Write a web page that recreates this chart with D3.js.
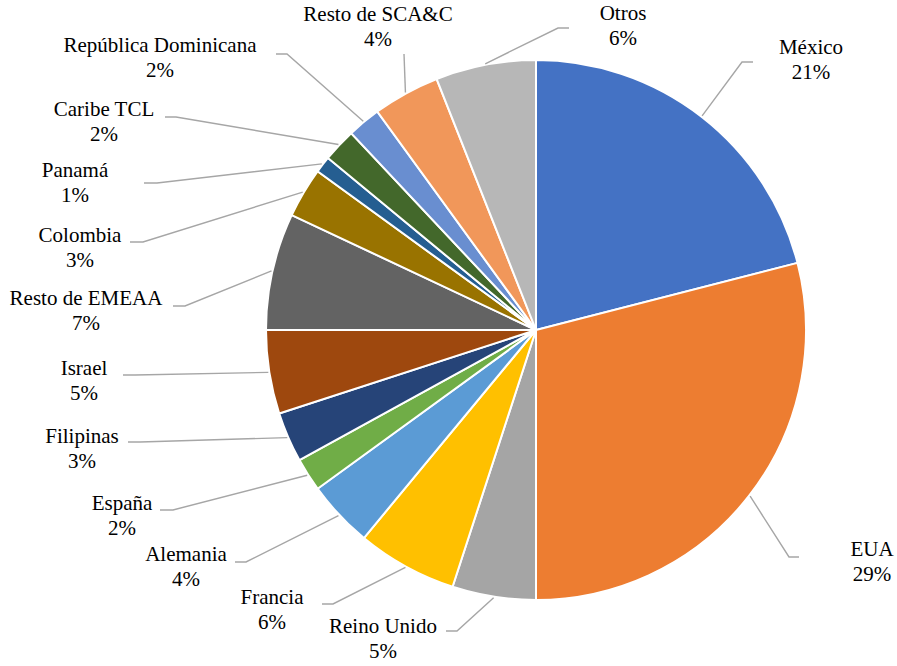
<!DOCTYPE html>
<meta charset="utf-8">
<body style="margin:0">
<svg id="grafico" width="897" height="666"></svg>
<script src="https://d3js.org/d3.v7.min.js"></script>
<script>

// datos, en el orden de las agujas del reloj desde arriba
var paises = ['México','EUA','Reino Unido','Francia','Alemania','España','Filipinas','Israel',
  'Resto de EMEAA','Colombia','Panamá','Caribe TCL','República Dominicana','Resto de SCA&C','Otros'];
var valores = [21, 29, 5, 6, 4, 2, 3, 5, 7, 3, 1, 2, 2, 4, 6];
var colores = ['#4472C4','#ED7D31','#A5A5A5','#FFC000','#5B9BD5','#70AD47','#264478','#9E480E',
  '#636363','#997300','#255E91','#43682B','#698ED0','#F1975A','#B7B7B7'];

// colocacion de las etiquetas (centro x, linea base) y fin de la linea guia [x, y, tramo horizontal]
var etiquetaPos = [[811,54],[872,556],[383,633],[272,604],[186,561],[122,510],[82,443],[84,375],
  [86,305],[80,242],[75,177],[104,116],[160,52],[378,21],[623,20]];
var guiaFin = [[753,62,11],[799,557,10],[446,631,-11],[322,604,-11],[235,562,-11],[160,510,-13],
  [128,442,-12],[123,375,-12],[173,306,-12],[130,242,-13],[144,183,-13],[165,117,-11],
  [276,54,-11],[404,54,0],[569,28,11]];

var cx = 536, cy = 330, R = 270;

var svg = d3.select("#grafico");
var g = svg.append("g").attr("transform", "translate(" + cx + "," + cy + ")");

var datos = paises.map(function(p, i){ return {pais:p, valor:valores[i], i:i}; });

var pie = d3.pie().sort(null).value(function(d){ return d.valor; });
var arc = d3.arc().innerRadius(0).outerRadius(R);
var borde = d3.arc().innerRadius(R + 1).outerRadius(R + 1);

var arcos = pie(datos);

g.selectAll("path")
  .data(arcos)
  .enter().append("path")
  .attr("d", arc)
  .attr("stroke", "#fff")
  .attr("stroke-width", 2)
  .attr("fill", function(d){ return colores[d.data.i]; });

// lineas guia
var linea = d3.line();
var guias = svg.append("g");
guias.selectAll("path")
  .data(arcos)
  .enter().append("path")
  .attr("fill", "none")
  .attr("stroke", "#a6a6a6")
  .attr("stroke-width", 1.4)
  .attr("d", function(d){
    var c = borde.centroid(d);
    var f = guiaFin[d.data.i];
    return linea([[cx + c[0], cy + c[1]], [f[0] - f[2], f[1]], [f[0], f[1]]]);
  });

// etiquetas
var total = d3.sum(valores);
var et = svg.append("g").selectAll("text")
  .data(arcos)
  .enter().append("text")
  .style("font-family", "'Times New Roman', 'Liberation Serif', serif")
  .style("font-size", "21px")
  .attr("fill", "#000")
  .attr("text-anchor", "middle")
  .attr("x", function(d){ return etiquetaPos[d.data.i][0]; })
  .attr("y", function(d){ return etiquetaPos[d.data.i][1]; });

et.append("tspan")
  .attr("x", function(d){ return etiquetaPos[d.data.i][0]; })
  .text(function(d){ return d.data.pais; });

et.append("tspan")
  .attr("x", function(d){ return etiquetaPos[d.data.i][0]; })
  .attr("dy", 24.5)
  .text(function(d){ return d3.format(".0%")(d.data.valor / total); });

</script>
</body>
</html>
